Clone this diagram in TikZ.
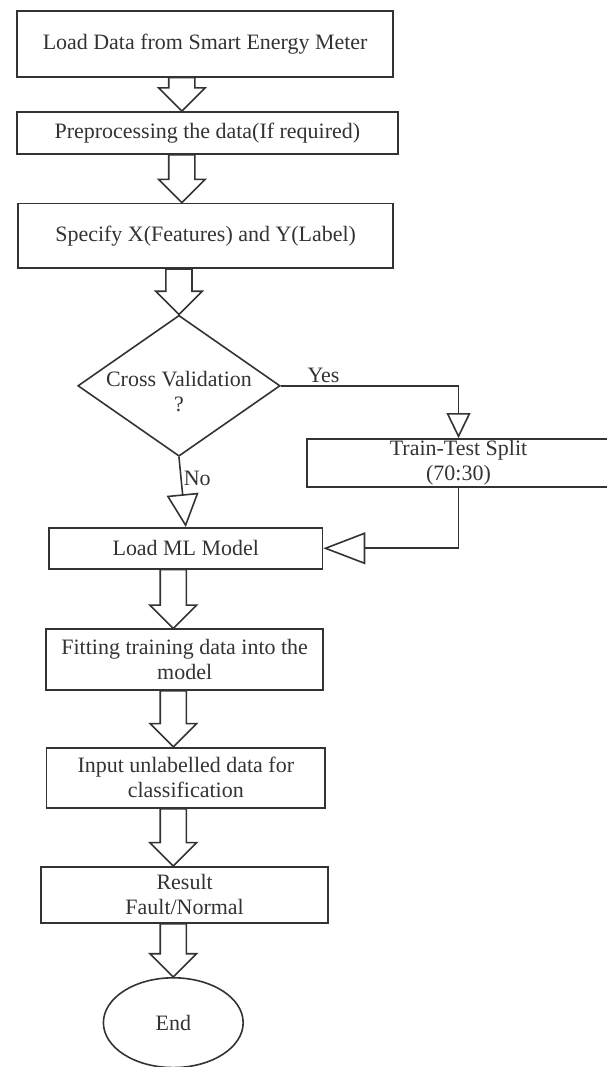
\documentclass[tikz,border=0pt]{standalone}
\usepackage{fontspec}
\setmainfont{Liberation Serif}
\usepackage{xcolor}
\usepackage{tikz}
\usetikzlibrary{arrows.meta,shapes.geometric,calc}
\definecolor{flowink}{HTML}{333333}

\begin{document}
\begin{tikzpicture}[
x=1cm,
y=1cm,
every node/.style={font=\fontsize{11}{12.5}\selectfont,text=flowink},
flowbox/.style={rectangle,draw=flowink,line width=0.8pt,align=center,inner sep=0pt},
flowdec/.style={diamond,draw=flowink,line width=0.8pt,inner sep=0pt,minimum width=3.56cm,minimum height=2.48cm},
flowend/.style={ellipse,draw=flowink,line width=0.8pt,inner sep=0pt,minimum width=2.46cm,minimum height=1.58cm},
flowbig/.style={draw=flowink,line width=0.8pt,line join=miter,to path={let \p1=(\tikztostart),\p2=(\tikztotarget) in (\x2-0.23cm,\y1) -- (\x2+0.23cm,\y1) -- (\x2+0.23cm,\y2+0.41cm) -- (\x2+0.41cm,\y2+0.41cm) -- (\x2,\y2) -- (\x2-0.41cm,\y2+0.41cm) -- (\x2-0.23cm,\y2+0.41cm) -- cycle}},
flowarr/.style={-{Triangle[open,length=0.58cm,width=0.56cm]},draw=flowink,line width=0.8pt},
flowlbl/.style={inner sep=1pt}
]
\clip (0,0) rectangle (10.68,-18.78);
\coordinate (topaxis) at (3.20,0);
\coordinate (axis) at (3.05,0);

\node[flowbox,minimum width=6.62cm,minimum height=1.16cm] (load) at (3.61,-0.77) {Load Data from Smart Energy Meter};
\node[flowbox,minimum width=6.71cm,minimum height=0.74cm] (prep) at (3.65,-2.34) {Preprocessing the data(If required)};
\node[flowbox,minimum width=6.60cm,minimum height=1.14cm] (spec) at (3.62,-4.15) {Specify X(Features) and Y(Label)};
\node[flowdec,label={[align=center,yshift=-0.1cm]center:Cross Validation\\?}] (cv) at (3.15,-6.79) {};
\node[flowbox,minimum width=5.33cm,minimum height=0.85cm] (split) at (8.07,-8.15) {Train-Test Split\\(70:30)};
\node[flowbox,minimum width=4.81cm,minimum height=0.72cm] (model) at (3.27,-9.65) {Load ML Model};
\node[flowbox,minimum width=4.88cm,minimum height=1.07cm] (fit) at (3.25,-11.61) {Fitting training data into the\\model};
\node[flowbox,minimum width=4.91cm,minimum height=1.06cm] (input) at (3.27,-13.69) {Input unlabelled data for\\classification};
\node[flowbox,minimum width=5.05cm,minimum height=0.99cm] (result) at (3.25,-15.75) {Result\\Fault/Normal};
\node[flowend] (end) at (3.05,-18.00) {End};

\draw[flowbig] (load.south -| topaxis) to (prep.north -| topaxis);
\draw[flowbig] (prep.south -| topaxis) to (spec.north -| topaxis);
\draw[flowbig] (spec.south -| cv) to (cv.north);

\draw[flowarr,-{Triangle[open,length=0.44cm,width=0.42cm]}] (cv.east) -| node[flowlbl,above,pos=0.12]{Yes} (split.north);
\draw[flowarr] (cv.south) -- node[flowlbl,right,pos=0.3]{No} (model.north);
\draw[flowarr,-{Triangle[open,length=0.74cm,width=0.56cm]}] (split.south) |- (model.east);

\draw[flowbig] (model.south -| axis) to (fit.north -| axis);
\draw[flowbig] (fit.south -| axis) to (input.north -| axis);
\draw[flowbig] (input.south -| axis) to (result.north -| axis);
\draw[flowbig] (result.south -| end) to (end.north);
\end{tikzpicture}
\end{document}
